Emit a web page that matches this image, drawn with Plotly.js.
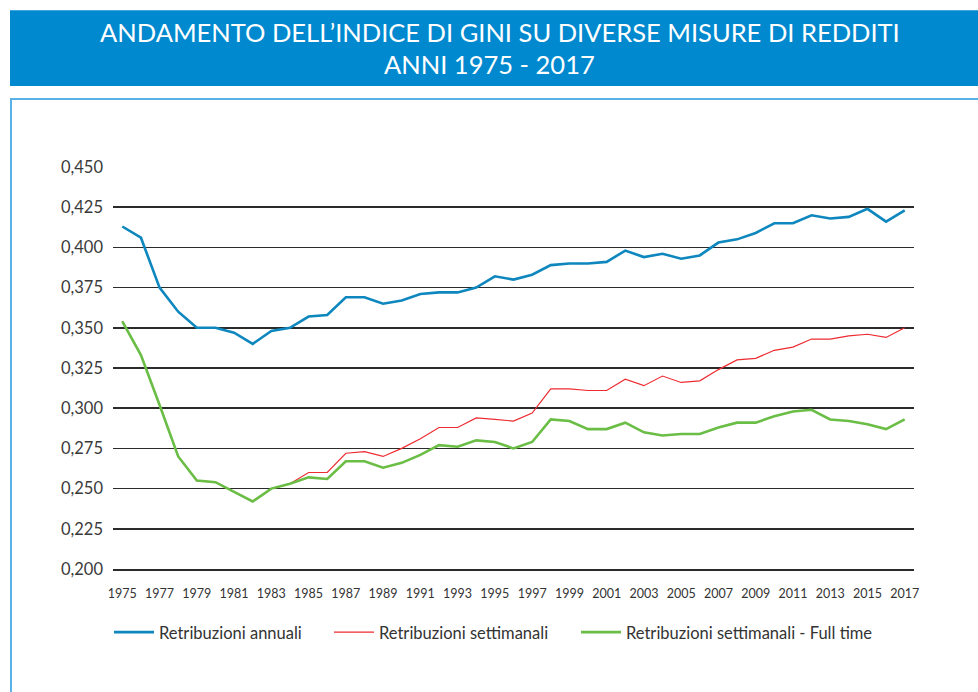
<!DOCTYPE html>
<html>
<head>
<meta charset="utf-8">
<script src="https://cdn.plot.ly/plotly-3.0.1.min.js"></script>
<style>
html,body{margin:0;padding:0;background:#fff;}
#chart{width:978px;height:692px;}
</style>
</head>
<body>
<div id="chart"></div>
<script>
const years = ["1975","1976","1977","1978","1979","1980","1981","1982","1983","1984","1985","1986","1987","1988","1989","1990","1991","1992","1993","1994","1995","1996","1997","1998","1999","2000","2001","2002","2003","2004","2005","2006","2007","2008","2009","2010","2011","2012","2013","2014","2015","2016","2017"];

const retribuzioniAnnuali = [0.413,0.406,0.375,0.360,0.350,0.350,0.347,0.340,0.348,0.350,0.357,0.358,0.369,0.369,0.365,0.367,0.371,0.372,0.372,0.375,0.382,0.380,0.383,0.389,0.390,0.390,0.391,0.398,0.394,0.396,0.393,0.395,0.403,0.405,0.409,0.415,0.415,0.420,0.418,0.419,0.424,0.416,0.423];

const retribuzioniSettimanali = [0.354,0.333,0.302,0.270,0.255,0.254,0.248,0.242,0.250,0.253,0.260,0.260,0.272,0.273,0.270,0.275,0.281,0.288,0.288,0.294,0.293,0.292,0.297,0.312,0.312,0.311,0.311,0.318,0.314,0.320,0.316,0.317,0.324,0.330,0.331,0.336,0.338,0.343,0.343,0.345,0.346,0.344,0.350];

const retribuzioniFullTime = [0.354,0.333,0.302,0.270,0.255,0.254,0.248,0.242,0.250,0.253,0.257,0.256,0.267,0.267,0.263,0.266,0.271,0.277,0.276,0.280,0.279,0.275,0.279,0.293,0.292,0.287,0.287,0.291,0.285,0.283,0.284,0.284,0.288,0.291,0.291,0.295,0.298,0.299,0.293,0.292,0.290,0.287,0.293];

const seriesNames = ["Retribuzioni annuali","Retribuzioni settimanali","Retribuzioni settimanali - Full time"];
const titleLines = ["ANDAMENTO DELL’INDICE DI GINI SU DIVERSE MISURE DI REDDITI", "ANNI 1975 - 2017"];
const yTicks = [0.200,0.225,0.250,0.275,0.300,0.325,0.350,0.375,0.400,0.425,0.450];

const FONT = "Lato, 'Open Sans', sans-serif";

const traces = [
  {x: years, y: retribuzioniAnnuali, name: seriesNames[0], type: 'scatter', mode: 'lines',
   line: {color: '#0d87bd', width: 2.6}, legend: 'legend'},
  {x: years, y: retribuzioniSettimanali, name: seriesNames[1], type: 'scatter', mode: 'lines',
   line: {color: '#ee2b31', width: 1.2}, legend: 'legend2'},
  {x: years, y: retribuzioniFullTime, name: seriesNames[2], type: 'scatter', mode: 'lines',
   line: {color: '#6abd45', width: 2.6}, legend: 'legend3'}
];

// paper-coordinate helpers (plot area: x 113..914, y 167..569.5)
const px = v => (v - 113) / 801;
const py = v => (569.5 - v) / 402.5;

const legendBase = {orientation: 'h', yanchor: 'middle', y: py(633), xanchor: 'left',
  font: {family: FONT, size: 16.5, color: '#333'}, bgcolor: 'rgba(0,0,0,0)', itemwidth: 40};

const layout = {
  width: 978, height: 692,
  margin: {l: 113, r: 64, t: 167, b: 122.5, pad: 0, autoexpand: false},
  paper_bgcolor: '#fff', plot_bgcolor: '#fff',
  separators: ',.',
  font: {family: FONT, color: '#333'},
  showlegend: true,
  xaxis: {
    type: 'category', range: [-0.5, 42.5], dtick: 2, tick0: 0,
    showgrid: false, zeroline: false, showline: true, linecolor: '#2b2b2b', linewidth: 1.5,
    ticks: '', tickfont: {family: FONT, size: 12.5, color: '#333'}, tickangle: 0,
    ticklabelstandoff: 12, automargin: false
  },
  yaxis: {
    range: [0.2, 0.45], tickvals: yTicks, tickformat: '.3f',
    showgrid: true, gridcolor: '#2b2b2b', gridwidth: 1.5, zeroline: false, showline: false,
    ticks: '', tickfont: {family: FONT, size: 16.5, color: '#3a3a3a'}, ticklabelstandoff: 9,
    automargin: false
  },
  legend: Object.assign({}, legendBase, {x: px(109)}),
  legend2: Object.assign({}, legendBase, {x: px(329)}),
  legend3: Object.assign({}, legendBase, {x: px(576)}),
  annotations: [
    {text: titleLines[0], xref: 'paper', yref: 'paper', x: px(500), y: py(32), xanchor: 'center', yanchor: 'middle',
     showarrow: false, font: {family: FONT, size: 25.5, color: '#ffffff'}},
    {text: titleLines[1], xref: 'paper', yref: 'paper', x: px(489), y: py(64), xanchor: 'center', yanchor: 'middle',
     showarrow: false, font: {family: FONT, size: 25.5, color: '#ffffff'}}
  ],
  shapes: [
    {type: 'rect', xref: 'paper', yref: 'paper', x0: px(10), x1: px(990),
     y0: py(86), y1: py(10), fillcolor: '#0089cf', line: {width: 0}, layer: 'below'},
    {type: 'line', xref: 'paper', yref: 'paper', x0: px(10), x1: px(990),
     y0: py(99), y1: py(99), line: {color: '#58b2e6', width: 2}},
    {type: 'line', xref: 'paper', yref: 'paper', x0: px(11), x1: px(11),
     y0: py(99), y1: py(700), line: {color: '#58b2e6', width: 2}}
  ],
  hovermode: false
};

Plotly.newPlot('chart', traces, layout, {displayModeBar: false, staticPlot: true});
</script>
</body>
</html>
